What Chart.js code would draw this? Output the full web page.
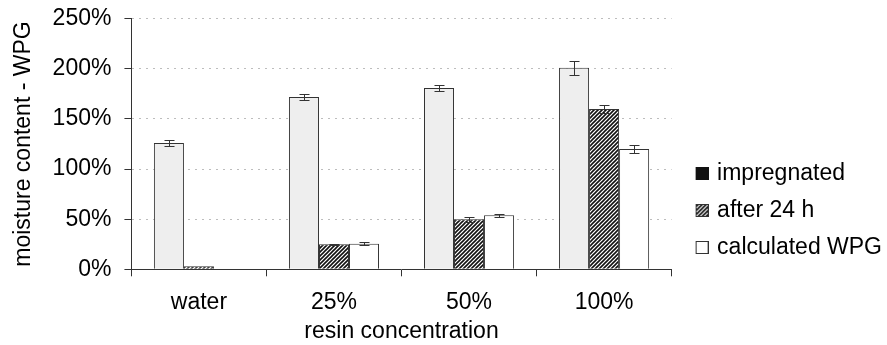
<!DOCTYPE html>
<html>
<head>
<meta charset="utf-8">
<script src="https://cdn.jsdelivr.net/npm/chart.js@4/dist/chart.umd.min.js"></script>
<style>
  html, body { margin: 0; padding: 0; background: #fff; }
  #wrap { width: 887px; height: 345px; }
</style>
</head>
<body>
<div id="wrap"><canvas id="myChart"></canvas></div>
<script>
// values (percent)
var categories = ['water', '25%', '50%', '100%'];
var impregnated = [126, 172, 181, 201];
var after24h = [3, 25, 50, 160];
var calculated = [null, 25.5, 54, 120];
var impErr = [3, 3, 3, 7];
var afterErr = [null, 0.5, 2.5, 4];
var calcErr = [null, 1.5, 1.5, 4];
var seriesNames = ['impregnated', 'after 24 h', 'calculated WPG'];
var yTicks = [0, 50, 100, 150, 200, 250];

var font = { family: '"Liberation Sans", Arial, sans-serif', size: 23 };
var edge = '#333333';

// diagonal hatch
function hatch() {
  var c = document.createElement('canvas');
  c.width = 4; c.height = 4;
  var g = c.getContext('2d');
  g.fillStyle = '#fff';
  g.fillRect(0, 0, 4, 4);
  g.strokeStyle = '#111';
  g.lineWidth = 1.6;
  g.beginPath();
  g.moveTo(0, 4); g.lineTo(4, 0);
  g.moveTo(-1, 1); g.lineTo(1, -1);
  g.moveTo(3, 5); g.lineTo(5, 3);
  g.stroke();
  return g.createPattern(c, 'repeat');
}
var hatchFill = hatch();

// legend swatches, 26px wide image, box in the right 13px
function swatch(kind) {
  var c = document.createElement('canvas');
  c.width = 26; c.height = 13;
  var g = c.getContext('2d');
  if (kind == 0) {
    g.fillStyle = '#111';
    g.fillRect(13, 0, 13, 13);
  } else {
    g.fillStyle = kind == 1 ? hatchFill : '#fff';
    g.fillRect(13.5, 0.5, 12, 12);
    g.strokeStyle = edge;
    g.lineWidth = 1;
    g.strokeRect(13.5, 0.5, 12, 12);
  }
  return c;
}
var swatches = [swatch(0), swatch(1), swatch(2)];

const errorBars = {
  id: 'errorBars',
  afterDatasetsDraw(chart) {
    const ctx = chart.ctx;
    const y = chart.scales.y;
    chart.data.datasets.forEach(function(ds, i) {
      const meta = chart.getDatasetMeta(i);
      meta.data.forEach(function(bar, j) {
        const v = ds.data[j], e = ds.errors[j];
        if (v == null || e == null) return;
        const t = Math.round(y.getPixelForValue(v + e)) + 0.5;
        const b = Math.round(y.getPixelForValue(v - e)) + 0.5;
        const x = Math.round(bar.x) + 0.5;
        ctx.save();
        ctx.strokeStyle = edge;
        ctx.lineWidth = 1;
        ctx.beginPath();
        ctx.moveTo(x, t); ctx.lineTo(x, b);
        ctx.moveTo(x - 5, t); ctx.lineTo(x + 5, t);
        ctx.moveTo(x - 5, b); ctx.lineTo(x + 5, b);
        ctx.stroke();
        ctx.restore();
      });
    });
  }
};

const data = {
  labels: categories,
  datasets: [{
    label: seriesNames[0],
    data: impregnated,
    errors: impErr,
    backgroundColor: '#eeeeee',
    borderColor: edge,
    borderWidth: 1
  }, {
    label: seriesNames[1],
    data: after24h,
    errors: afterErr,
    backgroundColor: hatchFill,
    borderColor: edge,
    borderWidth: 1
  }, {
    label: seriesNames[2],
    data: calculated,
    errors: calcErr,
    backgroundColor: '#ffffff',
    borderColor: edge,
    borderWidth: 1
  }]
};

const config = {
  type: 'bar',
  data: data,
  plugins: [errorBars],
  options: {
    responsive: true,
    maintainAspectRatio: false,
    animation: false,
    layout: { padding: { top: -2, right: -5, bottom: 0, left: 0 } },
    datasets: { bar: { categoryPercentage: 0.667, barPercentage: 1.0 } },
    plugins: {
      tooltip: { enabled: false },
      legend: {
        position: 'right',
        align: 'start',
        title: { display: true, text: '', font: { size: 1, lineHeight: 1 }, padding: { top: 149, bottom: 0 } },
        labels: {
          usePointStyle: true,
          pointStyleWidth: 20,
          padding: 14,
          color: '#000',
          font: font,
          generateLabels: function(chart) {
            return seriesNames.map(function(n, i) {
              return { text: n, pointStyle: swatches[i], datasetIndex: i, hidden: false, fontColor: '#000', lineWidth: 0 };
            });
          }
        }
      }
    },
    scales: {
      x: {
        grid: { display: true, drawOnChartArea: false, offset: true, tickLength: 7, tickColor: edge, tickBorderDash: [] },
        border: { color: edge },
        ticks: { padding: 14.5, color: '#000', font: { family: font.family, size: 23, lineHeight: 1 } },
        title: { display: true, text: 'resin concentration', color: '#000', font: font, padding: { top: -10.9, bottom: 0 } }
      },
      y: {
        min: 0,
        max: 250,
        afterBuildTicks: function(s) { s.ticks = yTicks.map(function(v) { return { value: v }; }); },
        ticks: { padding: 13, color: '#000', font: { family: font.family, size: 23, lineHeight: 0.5 }, callback: function(v) { return v + '%'; } },
        grid: {
          color: function(c) { return c.tick && c.tick.value === 0 ? 'rgba(0,0,0,0)' : '#bdbdbd'; },
          tickColor: edge, tickLength: 7, tickBorderDash: []
        },
        border: { color: edge, dash: [2, 5] },
        title: { display: true, text: 'moisture content - WPG', color: '#000', font: font, padding: { top: 10, bottom: 2 } }
      }
    }
  }
};

const myChart = new Chart(document.getElementById('myChart'), config);
</script>
</body>
</html>
